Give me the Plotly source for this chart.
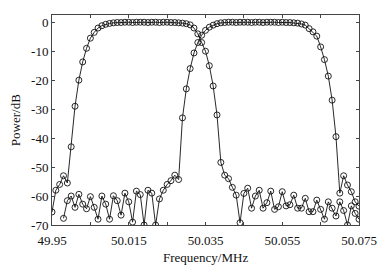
import numpy as np
import plotly.graph_objects as go

# Frequency grid (MHz), shared by both channels
freq = np.linspace(49.95, 50.075, 81)

# Channel 1 (lower band) power, dB
power_ch1 = [
    -65.5, -58, -56, -53, -55.5, -43, -29, -20, -13.7, -9,
    -5.5, -3.5, -2, -1.2, -0.7, -0.4, -0.2, -0.1, -0.1, 0,
    0, -0.1, 0, 0, 0, -0.1, 0, 0, -0.1, 0,
    0, -0.1, -0.1, -0.2, -0.3, -0.5, -0.9, -2, -4, -7,
    -10, -15, -22, -32, -48.4, -52.8, -54, -57, -59.7, -69.2,
    -59.1, -57.3, -64.2, -60, -58, -64.2, -62.3, -58.3, -64.6, -63.7,
    -58.5, -63.4, -63, -59.7, -64.2, -64.2, -60.8, -65.4, -65.4, -61.4,
    -64.6, -68, -62, -64.2, -66.9, -62, -65, -70, -63.4, -66,
    -68,
]

# Channel 2 (upper band) power, dB (no samples below the 4th frequency point)
power_ch2 = [
    None, None, None, -67.7, -61.6, -60, -63.9, -59.4, -62.8, -64.4,
    -60.2, -63.9, -68, -60, -62.8, -68, -59.9, -61.6, -66.6, -59,
    -62, -69, -58.3, -59.5, -70, -58, -59, -70, -61, -58,
    -56, -54.7, -52.8, -54.3, -33, -23, -16, -10.6, -7, -4.5,
    -2.8, -1.7, -1, -0.5, -0.2, -0.1, 0, 0, -0.1, 0,
    0, 0, -0.1, 0, 0, -0.1, 0, 0, 0, -0.1,
    0, -0.1, -0.1, -0.2, -0.3, -0.6, -1, -2.2, -3.3, -4.8,
    -8.5, -12.9, -18.6, -26.9, -39.5, -59, -53, -56.2, -58.5, -62,
    -63.5,
]

x_tick_vals = list(np.linspace(49.95, 50.075, 9))
x_tick_text = ["49.95", "", "50.015", "", "50.035", "", "50.055", "", "50.075"]
y_tick_vals = [0, -10, -20, -30, -40, -50, -60, -70]
y_tick_text = ["0", "-10", "-20", "-30", "-40", "-50", "-60", "-70"]

font_family = "Liberation Serif, Times New Roman, serif"

fig = go.Figure()
for p in (power_ch1, power_ch2):
    fig.add_trace(go.Scatter(
        x=freq, y=p, mode="lines+markers",
        line=dict(color="#111111", width=0.9),
        marker=dict(symbol="circle-open", size=6, color="#111111",
                    line=dict(width=0.9, color="#111111")),
        connectgaps=False, showlegend=False,
    ))

axis_common = dict(
    showline=True, linecolor="#444444", linewidth=1, mirror="ticks",
    ticks="inside", ticklen=3, tickcolor="#444444", tickwidth=1,
    showgrid=False, zeroline=False, automargin=False,
    tickfont=dict(family=font_family, size=13, color="#111111"),
)

# page body adds an 8px offset; figure sized to fit the 389x274 window
fig.update_layout(
    width=373, height=258,
    margin=dict(l=44, r=22, t=7, b=41),
    paper_bgcolor="white", plot_bgcolor="white",
    font=dict(family=font_family, size=13, color="#111111"),
    xaxis=dict(range=[49.95, 50.075], tickvals=x_tick_vals, ticktext=x_tick_text,
               ticklabelstandoff=3, **axis_common),
    yaxis=dict(range=[-70, 2.5], tickvals=y_tick_vals, ticktext=y_tick_text,
               **axis_common),
    annotations=[
        dict(text="Frequency/MHz", xref="paper", yref="paper", x=0.5, y=-0.157,
             xanchor="center", yanchor="middle", showarrow=False,
             font=dict(family=font_family, size=13, color="#111111")),
        dict(text="Power/dB", xref="paper", yref="paper", x=-0.12, y=0.5,
             xanchor="center", yanchor="middle", textangle=-90, showarrow=False,
             font=dict(family=font_family, size=13, color="#111111")),
    ],
)

fig.write_html("out.html")
